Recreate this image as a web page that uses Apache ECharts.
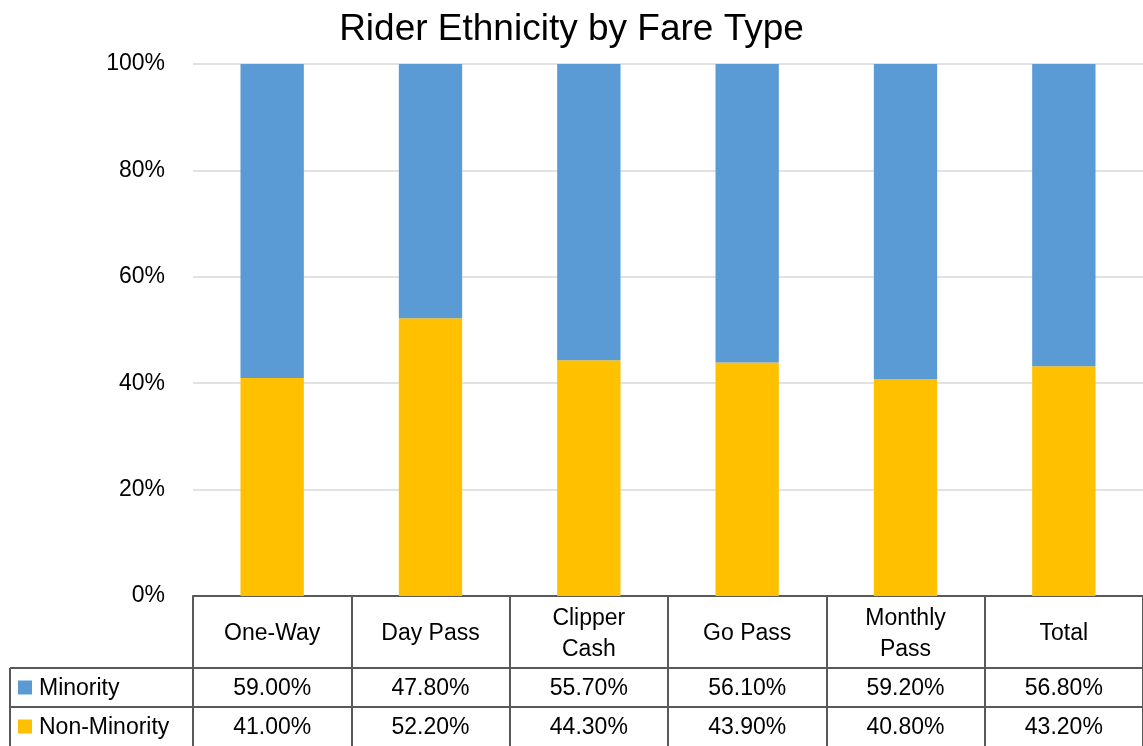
<!DOCTYPE html>
<html><head><meta charset="utf-8">
<script src="https://cdn.jsdelivr.net/npm/echarts@6/dist/echarts.min.js"></script>
<style>html,body{margin:0;padding:0;background:#fff}#c{width:1143px;height:746px}</style>
</head><body><div id="c"></div>
<script>
var categories = ['One-Way', 'Day Pass', 'Clipper\nCash', 'Go Pass', 'Monthly\nPass', 'Total'];
var minority = [59.0, 47.8, 55.7, 56.1, 59.2, 56.8];
var nonMinority = [41.0, 52.2, 44.3, 43.9, 40.8, 43.2];
var seriesNames = ['Minority', 'Non-Minority'];

var FONT = 'Liberation Sans';
var BLUE = '#5B9BD5', GOLD = '#FFC000', LINE = '#595959';
var chart = echarts.init(document.getElementById('c'));
var base = {
  animation: false,
  title: { text: 'Rider Ethnicity by Fare Type', left: 'center', top: 6,
    textStyle: { fontFamily: FONT, fontSize: 37, fontWeight: 'normal', color: '#000' } },
  grid: { left: 193, right: 0, top: 64, bottom: 150 },
  xAxis: { type: 'category', data: categories,
    axisLine: { lineStyle: { color: LINE, width: 2 } },
    axisTick: { show: true, length: 150, lineStyle: { color: LINE, width: 2 } },
    axisLabel: { fontFamily: FONT, fontSize: 23, color: '#000', margin: 38, lineHeight: 31, interval: 0, verticalAlign: 'middle' } },
  yAxis: { type: 'value', min: 0, max: 100, interval: 20,
    axisLabel: { formatter: function (v) { return v + '%'; }, fontFamily: FONT, fontSize: 23, color: '#000', margin: 28, verticalAlign: 'middle', lineHeight: 26 },
    axisLine: { show: false }, axisTick: { show: false },
    splitLine: { lineStyle: { color: '#d9d9d9', width: 1.5 } } },
  series: [
    { name: seriesNames[1], type: 'bar', stack: 'a', data: nonMinority, barWidth: '40%', itemStyle: { color: GOLD } },
    { name: seriesNames[0], type: 'bar', stack: 'a', data: minority, barWidth: '40%', itemStyle: { color: BLUE } }
  ]
};
chart.setOption(base);

var y0 = chart.convertToPixel({ yAxisIndex: 0 }, 0);
var left = 193, right = 1143;
var headerH = 72, rowH = 39;
var r1 = y0 + headerH, r2 = r1 + rowH, r3 = r2 + rowH;
var g = [];
function hline(y, x1, x2) { g.push({ type: 'line', shape: { x1: x1, y1: y, x2: x2, y2: y }, style: { stroke: LINE, lineWidth: 2 } }); }
function vline(x, y1, y2) { g.push({ type: 'line', shape: { x1: x, y1: y1, x2: x, y2: y2 }, style: { stroke: LINE, lineWidth: 2 } }); }
hline(r1, 10, right);
hline(r2, 10, right);
vline(10, r1, r3);
vline(left, y0, r3);
var rows = [minority, nonMinority];
var colors = [BLUE, GOLD];
rows.forEach(function (arr, ri) {
  var cy = r1 + rowH * ri + rowH / 2;
  g.push({ type: 'rect', shape: { x: 18, y: cy - 7, width: 14, height: 14 }, style: { fill: colors[ri] } });
  g.push({ type: 'text', x: 39, y: cy + 1, style: { text: seriesNames[ri], fontFamily: FONT, fontSize: 23, fill: '#000', textVerticalAlign: 'middle', textAlign: 'left' } });
  arr.forEach(function (v, i) {
    var cx = chart.convertToPixel({ xAxisIndex: 0 }, i);
    g.push({ type: 'text', x: cx, y: cy + 1, style: { text: v.toFixed(2) + '%', fontFamily: FONT, fontSize: 23, fill: '#000', textAlign: 'center', textVerticalAlign: 'middle' } });
  });
});
chart.setOption({ graphic: g });
</script></body></html>
